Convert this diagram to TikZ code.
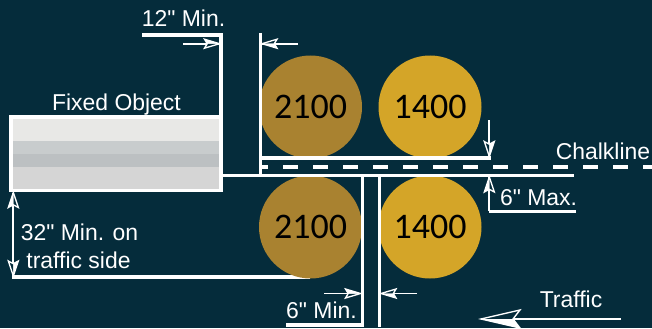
\documentclass[tikz,border=0pt]{standalone}
\usepackage{fontspec}
\setmainfont{Liberation Sans}[Ligatures=TeXOff]
\newfontfamily\numfont{Carlito}
\definecolor{bgc}{HTML}{052C3B}
\definecolor{darkc}{HTML}{A98230}
\definecolor{goldc}{HTML}{D4A528}
\definecolor{bandA}{HTML}{E8E8E6}
\definecolor{bandB}{HTML}{C8CCCD}
\definecolor{bandC}{HTML}{BCC0C2}
\definecolor{bandD}{HTML}{D5D5D5}
\tikzset{
  heavy/.style={draw=white,line width=2.5pt},
  thin line/.style={draw=white,line width=1.25pt},
  chalk/.style={draw=white,line width=2.7pt,dash pattern=on 11.25pt off 11.25pt,dash phase=5.25pt},
  roller/.style={circle,inner sep=0pt,minimum size=77.25pt,text=black,font=\numfont\fontsize{27}{27}\selectfont},
  lbl/.style={text=white,inner sep=0pt,anchor=base,font=\fontsize{17.2}{17.2}\selectfont}
}
\newcommand{\headat}[4]{%
  \begin{scope}[shift={(#1)},rotate=#2]
    \fill[bgc] (0,0) -- (#3,-#4) -- (#3*0.82,0) -- cycle;
    \fill[white] (0,0) -- (#3*0.82,0) -- (#3,#4) -- cycle;
    \draw[white,line width=1pt,line join=miter] (0,0) -- (#3,-#4) -- (#3*0.82,0) -- (#3,#4) -- cycle;
  \end{scope}}
\begin{document}
\begin{tikzpicture}[x=0.75pt,y=-0.75pt]
\useasboundingbox (0,0) rectangle (652,328);
\fill[bgc] (0,0) rectangle (652,328);
\coordinate (minA) at (142,35);
\coordinate (minB) at (221,35);
\coordinate (boxTop) at (221,115);
\coordinate (postT) at (260.5,33);
\coordinate (postB) at (260.5,177);
\coordinate (upL) at (260.5,158);
\coordinate (upR) at (490.5,158);
\coordinate (lowL) at (222,175.7);
\coordinate (lowR) at (574,175.7);
\coordinate (chalkL) at (260,167);
\coordinate (chalkR) at (652,167);
\coordinate (gapAT) at (362.3,175);
\coordinate (gapAB) at (362.3,327);
\coordinate (gapBT) at (379.5,175);
\coordinate (gapBB) at (379.5,327);
\coordinate (sixA) at (286,325);
\coordinate (sixB) at (363,325);
\coordinate (maxT) at (489.3,177);
\coordinate (maxC) at (489.3,211.3);
\coordinate (maxR) at (576,211.3);
\coordinate (sideA) at (12,277);
\coordinate (sideB) at (310,277);
\coordinate (sideT) at (13.3,192.5);
\coordinate (sideD) at (13.3,276);
\coordinate (a1s) at (183,43.7);
\coordinate (a1e) at (219.5,43.7);
\coordinate (a2s) at (298,43.7);
\coordinate (a2e) at (262,43.7);
\coordinate (a3s) at (489.3,120);
\coordinate (a3e) at (489.3,156.5);
\coordinate (a4s) at (324,293.5);
\coordinate (a4e) at (360.5,293.5);
\coordinate (a5s) at (417,293.5);
\coordinate (a5e) at (381,293.5);
\coordinate (trS) at (621,319);
\coordinate (trE) at (481,319);
\draw[heavy] (sideA) -- (sideB);
\node[roller,fill=darkc] (r1) at (310.5,107) {\raisebox{-1pt}{2100}};
\node[roller,fill=goldc] (r2) at (430,107) {\raisebox{-1pt}{1400}};
\node[roller,fill=darkc] (r3) at (310.5,227) {\raisebox{-1pt}{2100}};
\node[roller,fill=goldc] (r4) at (430,227) {\raisebox{-1pt}{1400}};
\fill[bandA] (11,117) rectangle (221,141);
\fill[bandB] (11,141) rectangle (221,154);
\fill[bandC] (11,154) rectangle (221,167);
\fill[bandD] (11,167) rectangle (221,190.5);
\draw[white,line width=2.7pt] (11,116.8) rectangle (221,190.5);
\draw[heavy] (minA) -- (minB) -- (boxTop);
\draw[heavy] (postT) -- (postB);
\draw[heavy] (upL) -- (upR);
\draw[heavy] (lowL) -- (lowR);
\draw[chalk] (chalkL) -- (chalkR);
\draw[heavy] (gapAT) -- (gapAB);
\draw[heavy] (gapBT) -- (gapBB);
\draw[heavy] (sixA) -- (sixB);
\draw[thin line,line width=1.6pt] (maxT) -- (maxC);
\draw[heavy] (maxC) -- (maxR);
\draw[thin line] (sideT) -- (sideD);
\draw[thin line] (a1s) -- (a1e);
\draw[thin line] (a2s) -- (a2e);
\draw[thin line] (a3s) -- (a3e);
\draw[thin line] (a4s) -- (a4e);
\draw[thin line] (a5s) -- (a5e);
\draw[thin line,line width=1.4pt] (trS) -- (trE);
\headat{a1e}{180}{15}{4.5}
\headat{a2e}{0}{15}{4.5}
\headat{a3e}{90}{15}{5}
\headat{a4e}{180}{15}{4.5}
\headat{a5e}{0}{15}{4.5}
\headat{maxT}{-90}{15}{5}
\headat{sideT}{-90}{15}{5}
\headat{sideD}{90}{15}{5}
\headat{trE}{0}{39}{9}
\node[lbl] (l12) at (183.5,27) {12" Min.};
\node[lbl] (lfo) at (116.5,110) {Fixed Object};
\node[lbl] (lch) at (603,159) {Chalkline};
\node[lbl] (lmx) at (538.5,205) {6" Max.};
\node[lbl] (l32) at (79.5,240) {32" Min. on};
\node[lbl] (ltr) at (78.5,268) {traffic side};
\node[lbl] (lmn) at (321.5,318) {6" Min.};
\node[lbl] (ltf) at (571,307) {Traffic};
\end{tikzpicture}
\end{document}
